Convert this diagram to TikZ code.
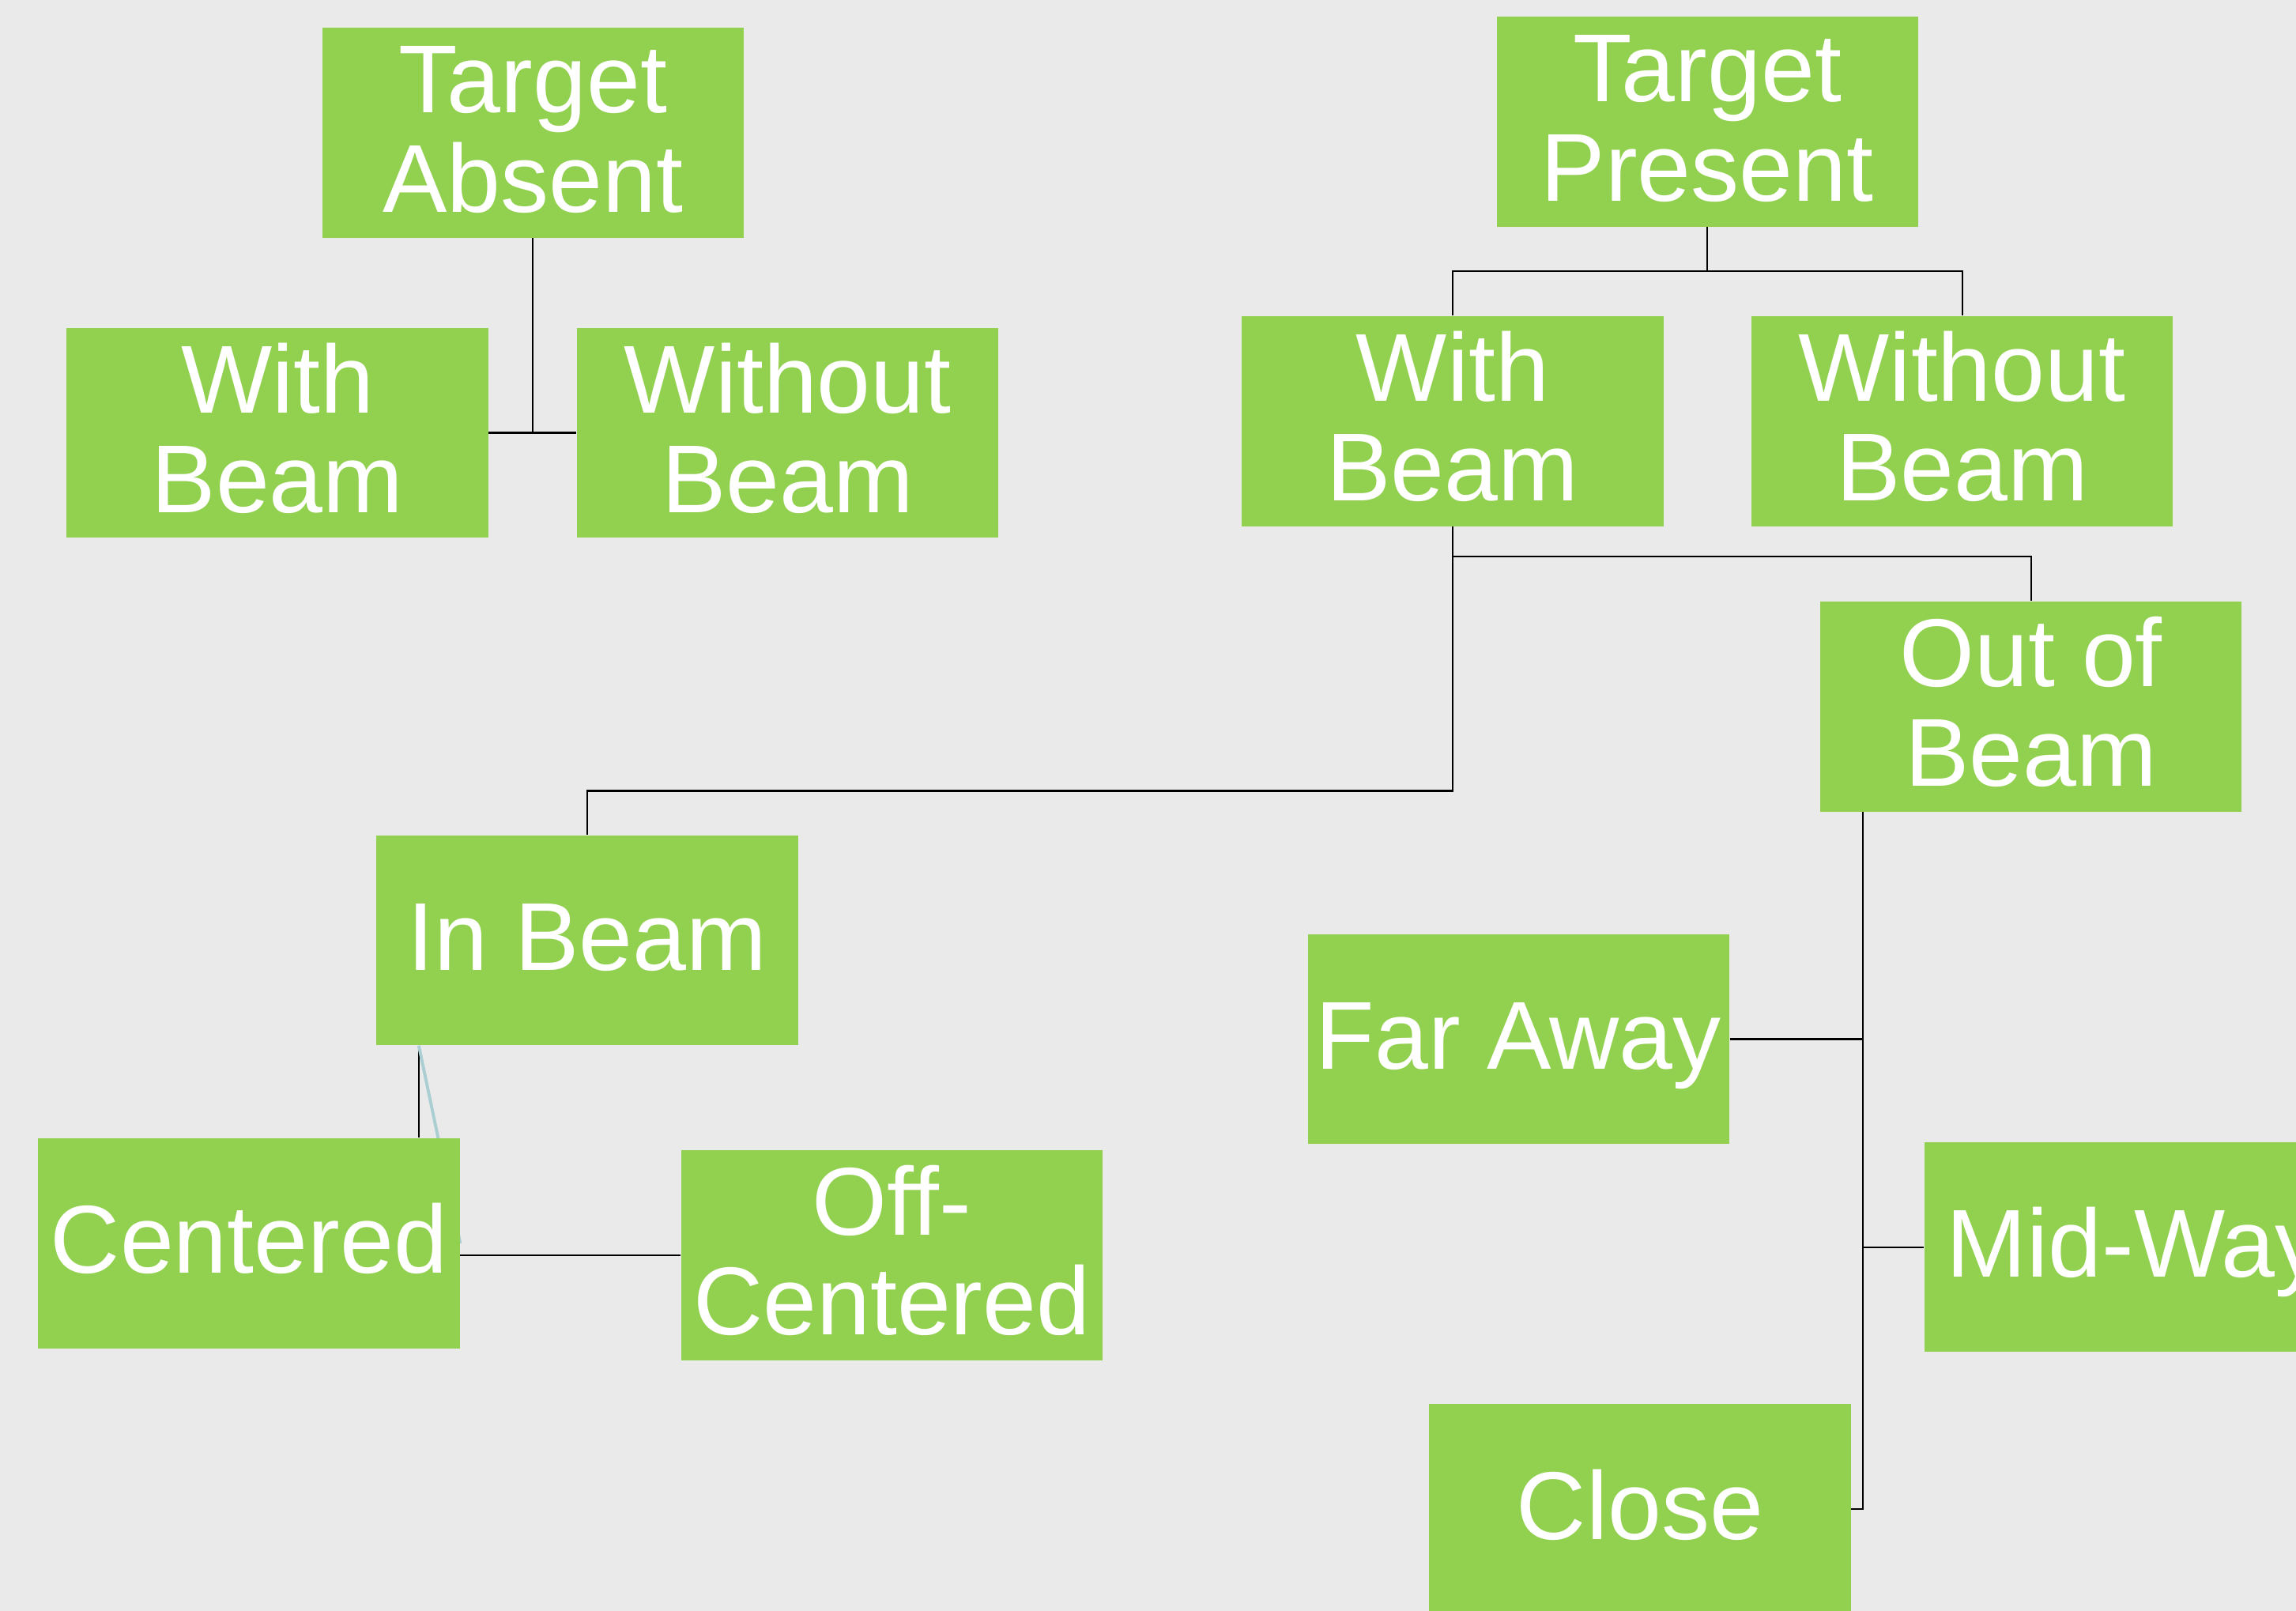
\documentclass[tikz,border=0pt]{standalone}
\usepackage{fontspec}
\setmainfont{Liberation Sans}
\pgfdeclarelayer{bg}
\pgfdeclarelayer{lines}
\pgfsetlayers{bg,lines,main}
\definecolor{boxgreen}{RGB}{146,208,80}
\definecolor{pagegray}{RGB}{234,234,234}
\definecolor{teal line}{RGB}{170,206,210}
\tikzset{
  box/.style={fill=boxgreen, draw=none, inner sep=0pt, minimum width=5.76cm, minimum height=2.87cm},
  txt/.style={text=white, inner sep=0pt, anchor=base, font=\fontsize{37.5}{40}\selectfont},
  conn/.style={draw=black, line width=0.65pt},
  stray/.style={draw=teal line, line width=1.2pt}
}
\begin{document}
\begin{tikzpicture}[x=0.02cm, y=-0.02cm]
\useasboundingbox (0,0) rectangle (1568,1100);
\clip (0,0) rectangle (1568,1100);
\begin{pgfonlayer}{bg}
\fill[pagegray] (0,0) rectangle (1568,1100);
\end{pgfonlayer}

% boxes
\node[box] (ta) at (364,90.5) {};
\node[box] (wbl) at (189.5,295.5) {};
\node[box] (wobl) at (538,295.5) {};
\node[box] (tp) at (1166,83) {};
\node[box] (wbr) at (992,287.5) {};
\node[box] (wobr) at (1340,287.5) {};
\node[box] (oob) at (1387,482.5) {};
\node[box] (inb) at (401,642) {};
\node[box] (far) at (1037,709.5) {};
\node[box] (mid) at (1458,851.5) {};
\node[box] (cen) at (170,849) {};
\node[box] (off) at (609,857) {};
\node[box] (close) at (1120,1030.5) {};

% texts
\node[txt] (ta1) at (364,77) {Target};
\node[txt] (ta2) at (364,145) {Absent};
\node[txt] (wbl1) at (189.5,282) {With};
\node[txt] (wbl2) at (189.5,350) {Beam};
\node[txt] (wobl1) at (538,282) {Without};
\node[txt] (wobl2) at (538,350) {Beam};
\node[txt] (tp1) at (1166,69.5) {Target};
\node[txt] (tp2) at (1166,137.5) {Present};
\node[txt] (wbr1) at (992,274) {With};
\node[txt] (wbr2) at (992,342) {Beam};
\node[txt] (wobr1) at (1340,274) {Without};
\node[txt] (wobr2) at (1340,342) {Beam};
\node[txt] (oob1) at (1387,469) {Out of};
\node[txt] (oob2) at (1387,537) {Beam};
\node[txt] (inb1) at (401,662.5) {In Beam};
\node[txt] (far1) at (1037,730) {Far Away};
\node[txt] (mid1) at (1458,872) {Mid-Way};
\node[txt] (cen1) at (170,869.5) {Centered};
\node[txt] (off1) at (609,843.5) {Off-};
\node[txt] (off2) at (609,911.5) {Centered};
\node[txt] (close1) at (1120,1051) {Close};

% junction points
\coordinate (tpj) at (1166,185);
\coordinate (wbj) at (992,380);
\coordinate (inj) at (992,540);
\coordinate (oobtop) at (1272,554);
\coordinate (oobbot) at (1272,1030.5);
\coordinate (inbl) at (286,714);

\begin{pgfonlayer}{lines}
\draw[conn] (ta.south) -- (ta.south |- wbl.east);
\draw[conn] (wbl.east) -- (wobl.west);
\draw[conn] (tp.south) -- (tpj);
\draw[conn] (wbr.north) |- (tpj) -| (wobr.north);
\draw[conn] (wbr.south) -- (wbj) -| (oob.north);
\draw[conn] (wbj) -- (inj) -| (inb.north);
\draw[conn] (oobtop) -- (oobbot) -- (close.east);
\draw[conn] (far.east) -- (far.east -| oobtop);
\draw[conn] (mid.west) -- (mid.west -| oobtop);
\draw[conn] (inbl) -- (inbl |- cen.north);
\draw[conn] (cen.east |- off.west) -- (off.west);
\draw[stray] (inbl) -- (cen.east);
\end{pgfonlayer}
\end{tikzpicture}
\end{document}
